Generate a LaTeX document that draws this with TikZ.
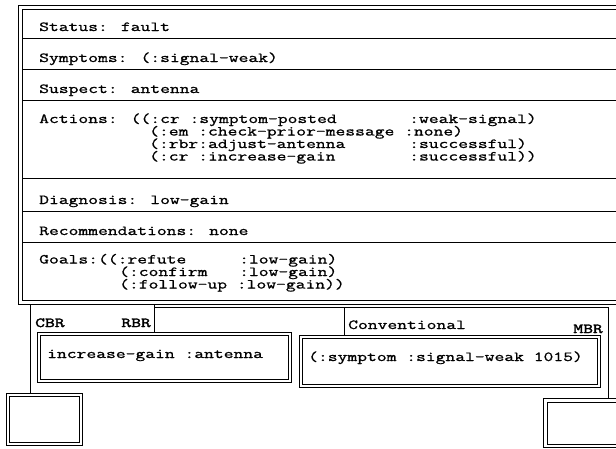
\documentclass[tikz,border=0pt]{standalone}
\usepackage{fontspec}
\newfontfamily\reffont{Latin Modern Mono}[FakeStretch=1.38,FakeBold=1.1]
\newfontfamily\refbfont{Latin Modern Mono}[FakeStretch=1.38,FakeBold=2.4]
\newcommand\tfont{\reffont\fontsize{13.8pt}{16pt}\selectfont}
\newcommand\bfont{\refbfont\fontsize{13.8pt}{16pt}\selectfont}
\tikzset{
  lbl/.style={anchor=base west, inner sep=0pt, font=\tfont},
  blbl/.style={anchor=base west, inner sep=0pt, font=\bfont},
  rlbl/.style={anchor=base east, inner sep=0pt, font=\bfont},
  frame/.style={draw=black, line width=0.8pt},
}
\begin{document}
\begin{tikzpicture}[x=1pt,y=-1pt]
\useasboundingbox (0,0) rectangle (616,448);
% main frame (double line)
\draw[frame] (630,5) -- (18,5) -- (18,304) -- (630,304);
\draw[frame] (630,9) -- (22,9) -- (22,300) -- (630,300);
\foreach \yy in {38,69,100,178,211,242} \draw[frame] (22,\yy) -- (630,\yy);
% text rows
\node[lbl] (status) at (39,31) {Status: fault};
\node[lbl] (symptoms) at (39,62) {Symptoms: (:signal-weak)};
\node[lbl] (suspect) at (39,93) {Suspect: antenna};
\node[lbl] (act1) at (39,123) {Actions: ((:cr :symptom-posted};
\node[lbl] (act1b) at (409,123) {:weak-signal)};
\node[lbl] (act2) at (149,135.5) {(:em :check-prior-message :none)};
\node[lbl] (act3) at (149,148) {(:rbr:adjust-antenna};
\node[lbl] (act3b) at (409,148) {:successful)};
\node[lbl] (act4) at (149,160.5) {(:cr :increase-gain};
\node[lbl] (act4b) at (409,160.5) {:successful))};
\node[lbl] (diag) at (39,204) {Diagnosis: low-gain};
\node[lbl] (rec) at (39,235) {Recommendations: none};
\node[lbl] (goal1) at (39,263.5) {Goals:((:refute};
\node[lbl] (goal1b) at (239,263.5) {:low-gain)};
\node[lbl] (goal2) at (119,276) {(:confirm};
\node[lbl] (goal2b) at (239,276) {:low-gain)};
\node[lbl] (goal3) at (119,288.5) {(:follow-up :low-gain))};
% lower panels
\coordinate (lt) at (30,304);
\coordinate (lb) at (30,393);
\draw[frame] (lt) -- (lb);
\draw[frame] (154,304) -- (154,332);
\draw[frame] (154,307) -- (608,307);
\draw[frame] (344,307) -- (344,335);
\draw[frame] (608,307) -- (608,398);
\node[blbl] (cbr) at (35,327) {CBR};
\node[rlbl] (rbr) at (151,327) {RBR};
\node[lbl] (conv) at (348,329) {Conventional};
\node[rlbl] (mbr) at (603,333) {MBR};
% inner boxes
\draw[frame] (37,332) rectangle (291,382);
\draw[frame] (40,335) rectangle (288,379);
\node[lbl] (inc) at (47,358) {increase-gain :antenna};
\draw[frame] (299,335) rectangle (600,387);
\draw[frame] (302,338) rectangle (597,384);
\node[lbl] (sym) at (308,361) {(:symptom :signal-weak 1015)};
% small boxes
\draw[frame] (6,393) rectangle (82,445);
\draw[frame] (9,396) rectangle (79,442);
\draw[frame] (543,398) rectangle (630,447);
\draw[frame] (547,402) rectangle (630,444);
\end{tikzpicture}
\end{document}
